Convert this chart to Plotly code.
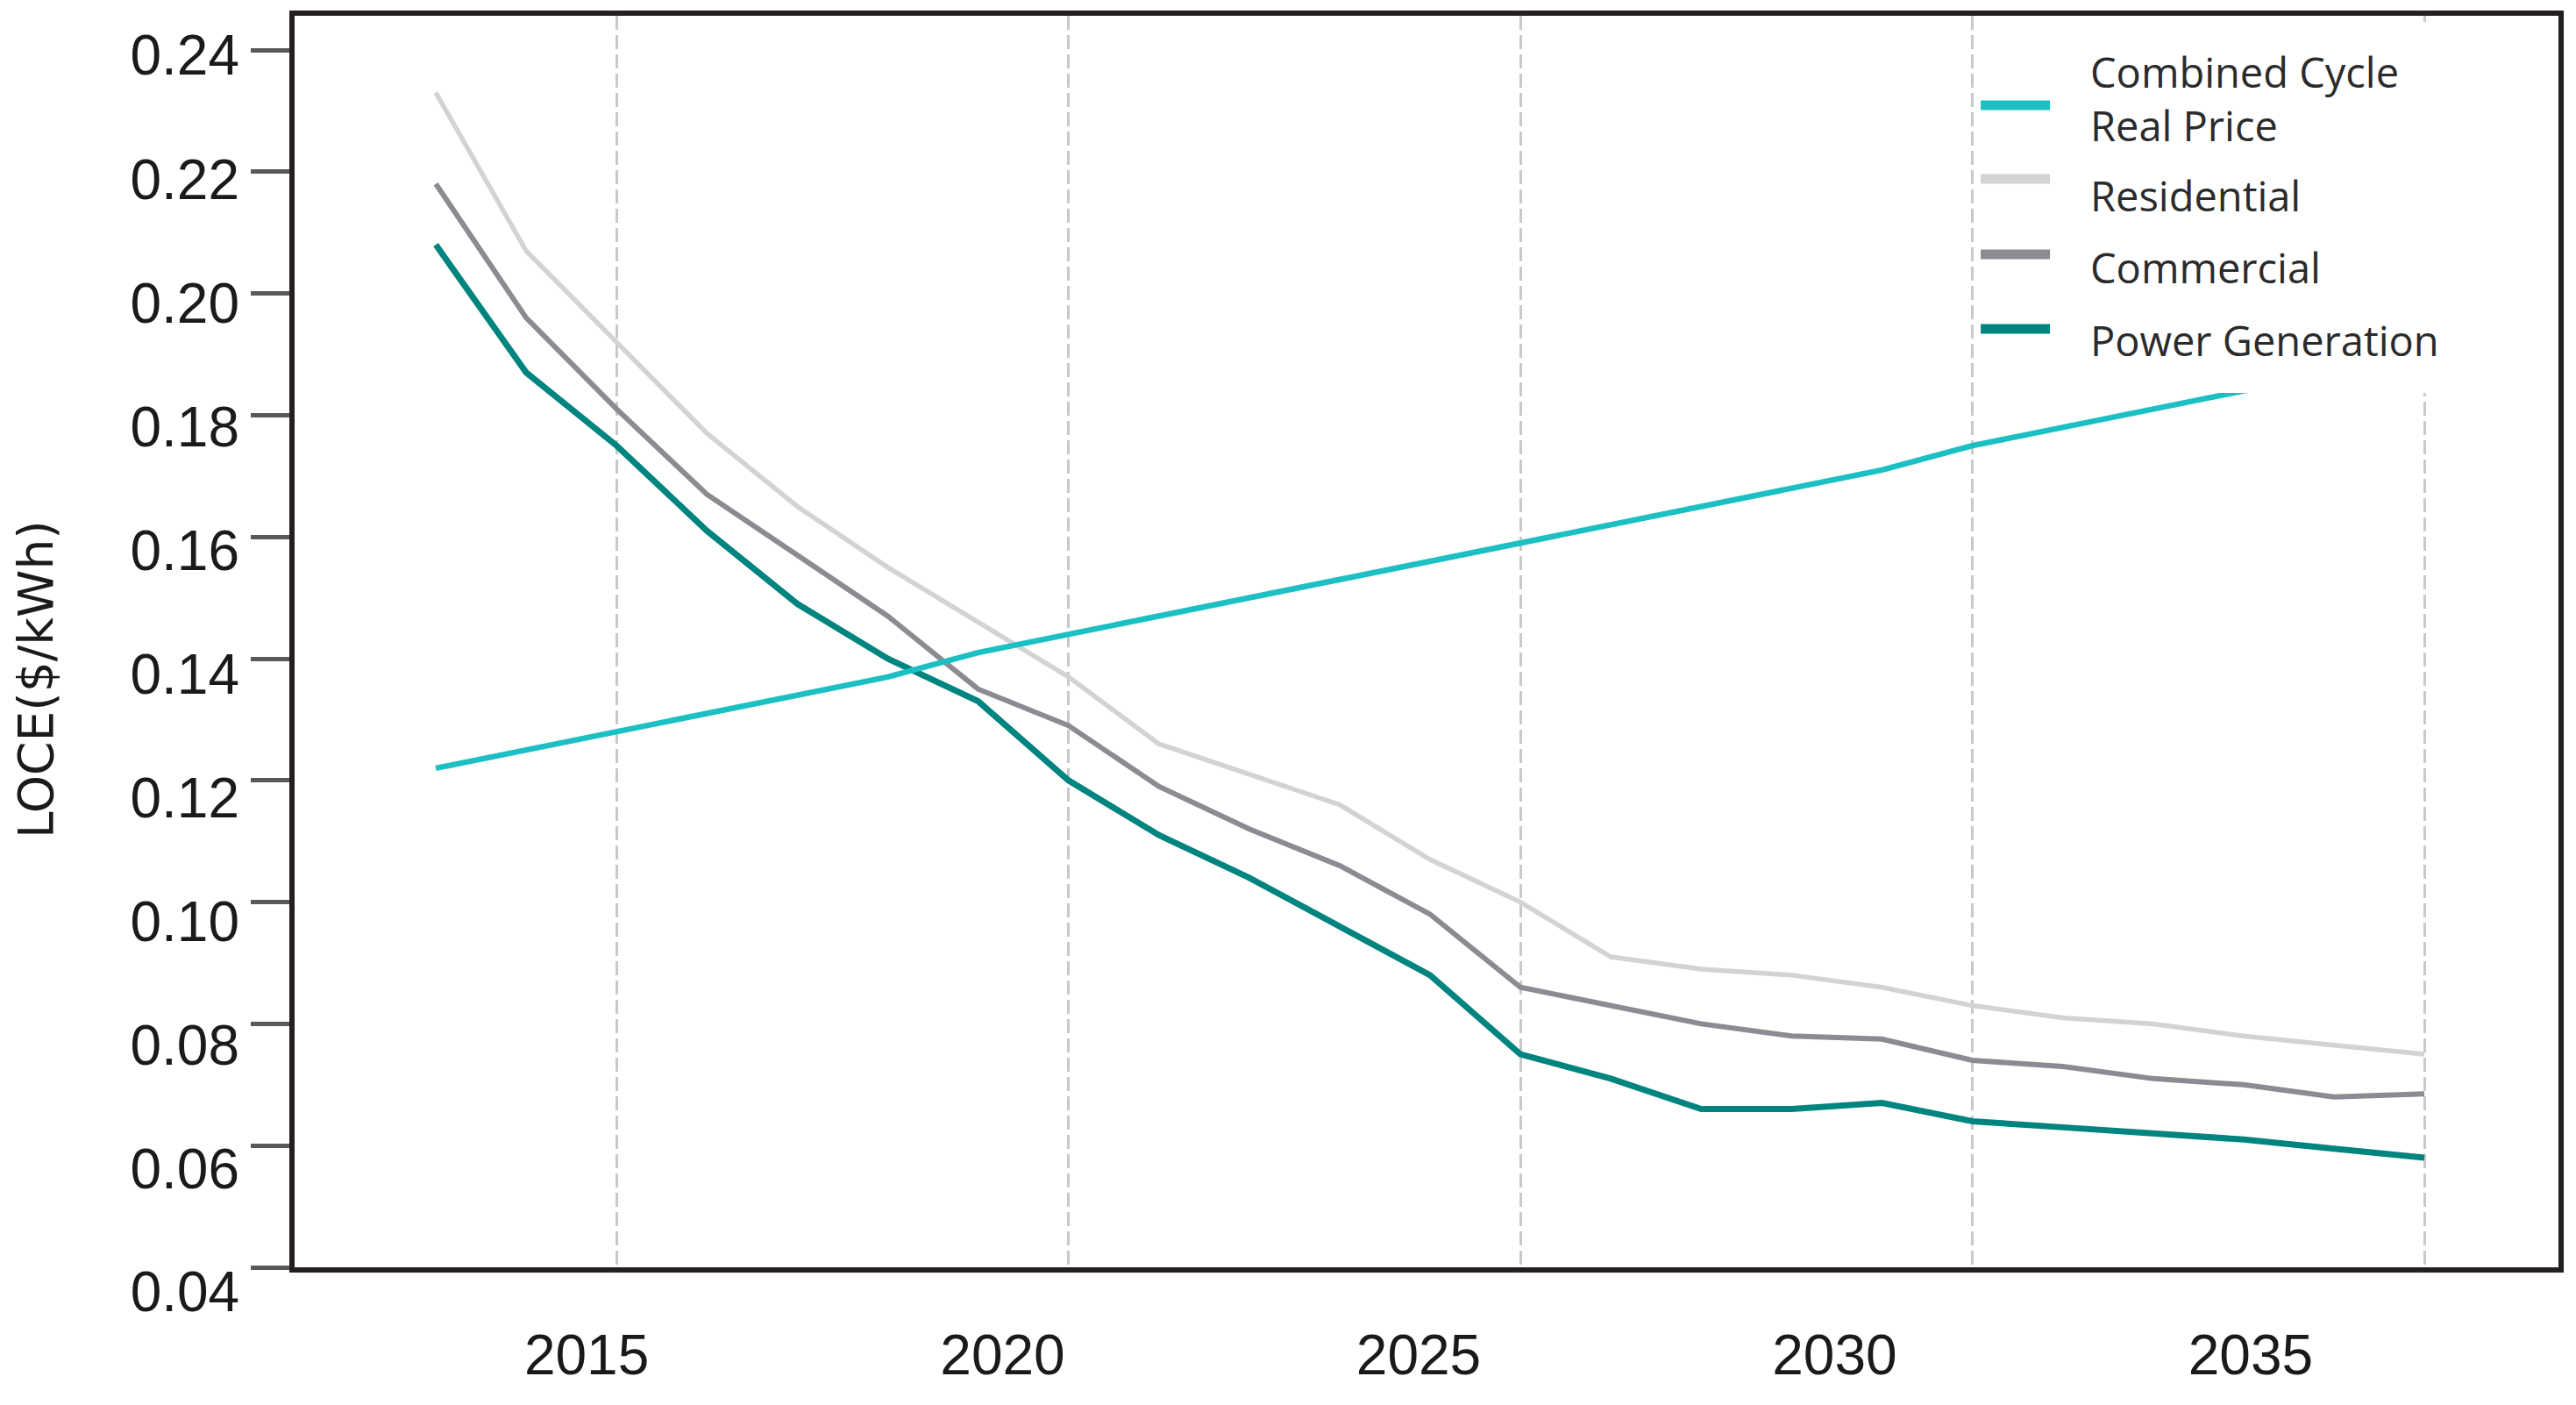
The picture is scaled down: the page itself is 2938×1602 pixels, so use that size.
import plotly.graph_objects as go

# ---- data ----
years = list(range(2013, 2036))
combined_cycle = [0.122, 0.125, 0.128, 0.131, 0.134, 0.137, 0.141, 0.144, 0.147, 0.150,
                  0.153, 0.156, 0.159, 0.162, 0.165, 0.168, 0.171, 0.175, 0.178, 0.181,
                  0.184, 0.187, 0.190]
residential = [0.233, 0.207, 0.192, 0.177, 0.165, 0.155, 0.146, 0.137, 0.126, 0.121,
               0.116, 0.107, 0.100, 0.091, 0.089, 0.088, 0.086, 0.083, 0.081, 0.080,
               0.078, 0.0765, 0.075]
commercial = [0.218, 0.196, 0.181, 0.167, 0.157, 0.147, 0.135, 0.129, 0.119, 0.112,
              0.106, 0.098, 0.086, 0.083, 0.080, 0.078, 0.0775, 0.074, 0.073, 0.071,
              0.070, 0.068, 0.0685]
power_generation = [0.208, 0.187, 0.175, 0.161, 0.149, 0.140, 0.133, 0.120, 0.111, 0.104,
                    0.096, 0.088, 0.075, 0.071, 0.066, 0.066, 0.067, 0.064, 0.063, 0.062,
                    0.061, 0.0595, 0.058]
grid_years = [2015, 2020, 2025, 2030, 2035]
x_tick_labels = ["2015", "2020", "2025", "2030", "2035"]
y_ticks = [0.04, 0.06, 0.08, 0.10, 0.12, 0.14, 0.16, 0.18, 0.20, 0.22, 0.24]
y_title = "LOCE($/kWh)"

names = ["Combined Cycle<br>Real Price", "Residential", "Commercial", "Power Generation"]
colors = ["#1cc0c2", "#d3d3d6", "#8b8b92", "#00847f"]
widths = [6.5, 5.5, 6, 7]
series = [combined_cycle, residential, commercial, power_generation]

fig = go.Figure()
# draw order: PG, Commercial, Residential, Combined cycle on top
for idx in [3, 2, 1, 0]:
    fig.add_trace(go.Scatter(
        x=years, y=series[idx], mode="lines", name=names[idx].replace("<br>", " "),
        line=dict(color=colors[idx], width=widths[idx]), showlegend=False,
    ))

# helper traces so the label axes (x2, y2) are drawn
fig.add_trace(go.Scatter(x=grid_years, y=[None] * len(grid_years), xaxis="x2",
                         mode="lines", showlegend=False, hoverinfo="skip"))
fig.add_trace(go.Scatter(x=[None] * len(y_ticks), y=y_ticks, yaxis="y2",
                         mode="lines", showlegend=False, hoverinfo="skip"))

# ---- legend (boxed key in the upper right of the plot area) ----
legend_box = dict(x0=0.7428, x1=0.993, y0=0.6987, y1=0.9951)
key_x0, key_x1, text_x = 0.7448, 0.7754, 0.7925
key_y = [0.9285, 0.8697, 0.8094, 0.7498]
text_y = [0.9341, 0.8563, 0.7989, 0.7407]

shapes = [dict(type="rect", xref="paper", yref="paper", layer="above",
               fillcolor="white", line=dict(width=0), **legend_box)]
annotations = []
for i in range(4):
    shapes.append(dict(type="line", xref="paper", yref="paper", layer="above",
                       x0=key_x0, x1=key_x1, y0=key_y[i], y1=key_y[i],
                       line=dict(color=colors[i], width=11)))
    annotations.append(dict(xref="paper", yref="paper", x=text_x, y=text_y[i],
                            xanchor="left", yanchor="middle", align="left",
                            text=names[i], showarrow=False,
                            font=dict(family="Open Sans", size=47, color="#2b2b2b")))

# y-axis title
annotations.append(dict(xref="paper", yref="paper", x=-0.1143, y=0.4702,
                        xanchor="center", yanchor="middle", textangle=-90,
                        text=y_title, showarrow=False,
                        font=dict(family="DejaVu Sans", size=55, color="#1a1a1a")))

tick_font = dict(family="Liberation Sans", size=64, color="#1a1a1a")
# the lowest label is written by the main axis, the others by the label axis
main_y_text = [f"{y_ticks[0]:.2f}"] + [""] * (len(y_ticks) - 1)

# the page body adds an 8px offset, so the figure is 8px smaller than the window
fig.update_layout(
    width=2930, height=1594,
    margin=dict(l=328, r=20, t=10, b=157),
    paper_bgcolor="white", plot_bgcolor="white",
    showlegend=False,
    shapes=shapes, annotations=annotations,
    xaxis=dict(
        range=[2011.438, 2036.484], automargin=False,
        tickvals=grid_years, showticklabels=False, ticks="",
        showgrid=True, gridcolor="#c9c9cd", gridwidth=2.5, griddash="16px,6px",
        showline=True, linecolor="#231f20", linewidth=6, mirror=True,
        zeroline=False,
    ),
    xaxis2=dict(
        overlaying="x", anchor="y", side="bottom", automargin=False,
        range=[2011.49, 2038.70],
        tickvals=grid_years, ticktext=x_tick_labels, ticks="",
        showgrid=False, showline=False, zeroline=False,
        tickfont=tick_font, ticklabelstandoff=57,
    ),
    yaxis=dict(
        range=[0.04, 0.24562], automargin=False,
        tickvals=y_ticks, ticktext=main_y_text,
        ticks="outside", ticklen=44, tickwidth=5, tickcolor="#58595b",
        showline=True, linecolor="#231f20", linewidth=6, mirror=True,
        showgrid=False, zeroline=False,
        tickfont=tick_font, ticklabelshift=28,
    ),
    yaxis2=dict(
        overlaying="y", anchor="x", side="left", automargin=False,
        range=[0.04411, 0.24638],
        tickvals=y_ticks[1:], tickformat=".2f", ticks="",
        showgrid=False, showline=False, zeroline=False,
        tickfont=tick_font, ticklabelstandoff=62,
    ),
)

fig.write_html("out.html")
